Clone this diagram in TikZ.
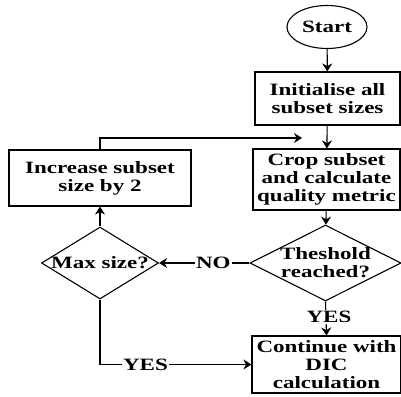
\documentclass[tikz,border=0pt]{standalone}
\usepackage{fontspec}
\setmainfont{Liberation Serif}[FakeStretch=1.33]
\usetikzlibrary{shapes.geometric,arrows.meta}

\begin{document}
\begin{tikzpicture}[x=1pt,y=-1pt,
  txt/.style={font=\fontsize{17.3}{18}\selectfont\bfseries, align=center},
  box/.style={draw, line width=1.1pt, rectangle, txt, inner sep=0pt},
  term/.style={draw, line width=1.1pt, ellipse, txt, inner sep=0pt},
  decision/.style={draw, line width=1.1pt, diamond, inner sep=0pt},
  flow/.style={line width=1.1pt, -{Stealth[length=8pt,width=10pt]}},
  tag/.style={txt, fill=white, inner sep=1pt}
]
\fill[white] (0,0) rectangle (401,396);
\useasboundingbox (0,0) rectangle (401,396);

% process nodes
\node[term, minimum width=80pt, minimum height=43pt] (start) at (327,27) {Start};
\node[box, minimum width=145pt, minimum height=53pt] (init) at (327.5,98.5)
  {Initialise all\\subset sizes};
\node[box, minimum width=147pt, minimum height=61pt] (crop) at (326.5,179.5)
  {Crop subset\\and calculate\\quality metric};
\node[box, minimum width=182pt, minimum height=56pt] (inc) at (100,178)
  {Increase subset\\size by 2};
\node[box, minimum width=149pt, minimum height=57pt] (cont) at (326.5,364.5)
  {Continue with\\DIC\\calculation};

% decisions
\node[decision, minimum width=151pt, minimum height=76pt,
  label={[txt]center:Theshold\\reached?}] (thr) at (325.5,263) {};
\node[decision, minimum width=117pt, minimum height=72pt,
  label={[txt]center:Max size?}] (max) at (100,263) {};

% connectors
\coordinate (loopend) at (302,138);
\draw[flow] (start) -- (init);
\draw[flow] (init) -- (crop);
\draw[flow] (crop) -- (thr);
\draw[flow] (thr.west) -- node[tag, pos=0.4] (no) {NO} (max.east);
\draw[flow] (max) -- (inc);
\draw[flow] (inc.north) |- (loopend);
\draw[flow] (thr.south) -- node[tag, pos=0.45, xshift=3pt] (yes1) {YES} (cont.north);
\draw[flow] (max.south) |- node[tag, pos=0.65] (yes2) {YES} (cont.west);
\end{tikzpicture}
\end{document}
